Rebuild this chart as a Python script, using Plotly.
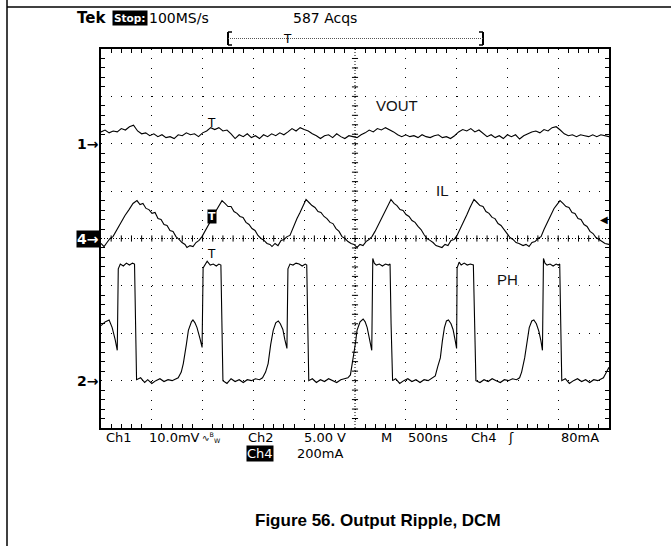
import plotly.graph_objects as go

# ---- scope record: 500 ns/div, 10 div -> 0..5000 ns ----

# Ch1 VOUT ripple (mV, AC), sampled every 40 ns
t_vout = list(range(0, 5001, 40))
vout_mv = [
    2.5, 2.9, 2.3, 2.7, 2.5, 3.2, 2.9, 3.6, 3.9, 2.7,
    2.1, 2.3, 1.7, 2.1, 1.5, 1.9, 1.3, 1.5, 1.1, 1.9,
    1.7, 2.3, 1.9, 2.1, 1.5, 2.3, 2.7, 3.4, 3.0, 3.4,
    2.7, 2.9, 2.1, 1.1, 1.9, 1.5, 2.1, 1.3, 1.7, 1.1,
    1.9, 1.5, 2.1, 1.7, 2.3, 1.9, 2.5, 3.2, 2.7, 3.4,
    3.0, 2.7, 2.1, 1.7, 1.1, 1.7, 1.9, 1.3, 2.1, 1.5,
    1.1, 1.7, 1.5, 1.3, 1.9, 2.3, 2.9, 2.5, 3.2, 2.9,
    3.4, 3.0, 2.5, 1.9, 1.5, 1.9, 1.5, 1.7, 1.3, 1.9,
    1.5, 1.3, 1.7, 1.9, 1.3, 1.5, 1.1, 1.7, 2.5, 3.0,
    2.7, 3.2, 2.5, 2.9, 2.1, 1.5, 1.9, 1.3, 1.7, 1.1,
    1.9, 1.5, 1.9, 1.0, 1.7, 2.1, 2.5, 2.7, 2.3, 3.0,
    2.7, 3.4, 3.6, 2.9, 2.1, 1.7, 1.9, 1.5, 1.9, 1.7,
    1.5, 1.9, 1.5, 1.9, 1.7, 1.5,
]

# Ch4 inductor current IL (mA)
t_il = [
    0, 30, 59, 89, 118, 157, 197, 236, 276, 315, 354,
    384, 413, 443, 472, 502, 532, 561, 591, 620, 650, 679, 709, 738, 768, 797, 827, 846,
    876, 906, 935, 965, 994, 1024, 1053, 1093, 1122, 1152, 1191,
    1220, 1250, 1280, 1309, 1339, 1368, 1398, 1427, 1457, 1486, 1516, 1545, 1575, 1604,
    1634, 1663, 1683, 1713, 1742, 1772, 1801, 1831, 1860, 1890, 1929, 1959, 1988, 2018,
    2047, 2077, 2106, 2136, 2165, 2195, 2224, 2254, 2283, 2313, 2343, 2372, 2402, 2431,
    2461, 2490, 2520, 2549, 2579, 2608, 2638, 2667, 2697, 2726, 2766, 2795, 2825, 2854,
    2884, 2913, 2943, 2973, 3002, 3032, 3061, 3091, 3120, 3150, 3179, 3209, 3238, 3268,
    3297, 3327, 3356, 3386, 3415, 3445, 3475, 3504, 3534, 3573, 3602, 3632, 3671,
    3701, 3730, 3760, 3789, 3819, 3849, 3878, 3908, 3937, 3967, 3996, 4026, 4055, 4085,
    4114, 4154, 4183, 4213, 4242, 4272, 4301, 4331, 4360, 4400, 4429, 4459, 4488, 4518,
    4547, 4577, 4606, 4636, 4665, 4695, 4724, 4754, 4784, 4813, 4843, 4872, 4902, 4931,
    4961, 5000,
]
il_ma = [
    -21, -34, -17, 0, 8, 38, 68, 97, 122, 148, 160,
    143, 148, 127, 122, 106, 110, 84, 80, 59, 55, 34, 30, 8, -4, -17, -25, -38,
    -30, -34, -17, -8, 8, 30, 51, 84, 110, 131, 160,
    148, 135, 135, 114, 106, 93, 89, 68, 59, 42, 34, 13, 0, -8,
    -21, -25, -34, -21, -30, -8, -4, 8, 13, 46, 84, 110, 139, 165,
    152, 139, 131, 114, 110, 93, 84, 68, 63, 42, 30, 8, 0, -13,
    -21, -25, -38, -25, -30, -13, -4, 8, 30, 55, 89, 114, 139, 165,
    148, 139, 122, 118, 101, 93, 76, 68, 51, 38, 17, 0, -8, -17,
    -30, -34, -38, -25, -30, -8, -4, 13, 38, 76, 101, 131, 165,
    152, 139, 135, 114, 106, 89, 84, 63, 55, 38, 25, 4, -4, -17,
    -21, -30, -25, -34, -17, -13, 0, 8, 38, 76, 106, 127, 143, 160,
    148, 135, 131, 110, 106, 84, 80, 59, 51, 30, 21, 4, -4, -13,
    -21, -25,
]

# Ch2 switch node PH (V)
t_ph = [
    0, 40, 80, 110, 140, 160, 170, 190, 220, 250, 280, 310, 330, 340, 350,
    390, 430, 460, 500, 540, 580, 620, 660, 700, 740, 760,
    790, 810, 840, 860, 890, 905, 925, 945, 975, 995, 1005, 1025, 1045, 1075,
    1105, 1135, 1160, 1180, 1190, 1200,
    1240, 1280, 1320, 1360, 1400, 1440, 1480, 1520, 1560, 1590,
    1620, 1645, 1670, 1695, 1720, 1745, 1765, 1790, 1810, 1830, 1840, 1860, 1890, 1920,
    1950, 1980, 2010, 2025, 2035, 2045,
    2080, 2120, 2160, 2200, 2240, 2280, 2320, 2360, 2400, 2430,
    2455, 2480, 2505, 2520, 2550, 2580, 2600, 2620, 2645, 2665, 2675, 2690, 2710, 2740,
    2770, 2800, 2830, 2845, 2855, 2870,
    2900, 2940, 2980, 3020, 3060, 3100, 3140, 3180, 3220, 3260,
    3290, 3315, 3340, 3360, 3380, 3400, 3420, 3445, 3465, 3485, 3500, 3505, 3525, 3545,
    3575, 3605, 3635, 3665, 3678, 3690,
    3730, 3770, 3810, 3850, 3890, 3930, 3970, 4010, 4050, 4090, 4120,
    4140, 4170, 4195, 4215, 4240, 4260, 4285, 4310, 4330, 4345, 4355, 4370, 4390, 4420,
    4450, 4480, 4500, 4515, 4525, 4535,
    4570, 4610, 4650, 4690, 4730, 4770, 4810, 4850, 4890, 4920,
    4945, 4965, 4990, 5000,
]
ph_v = [
    5.8, 6.2, 6.4, 5.6, 4.3, 3.2, 11.8, 12.3, 12.1, 12.4, 12.2, 12.4, 12.3, 6.0, 0.1,
    0.3, -0.2, 0.1, -0.3, 0.0, 0.2, -0.1, 0.1, 0.0, 0.2, 0.3,
    0.9, 1.8, 3.8, 5.3, 6.2, 6.4, 6.1, 5.6, 4.4, 3.5, 11.9, 12.3, 12.6, 12.2,
    12.3, 12.1, 12.3, 12.2, 6.0, 0.0,
    -0.3, 0.2, -0.1, 0.1, -0.2, 0.1, 0.0, 0.2, 0.1, 0.3,
    0.9, 1.8, 3.8, 5.3, 6.1, 6.3, 6.0, 5.4, 4.3, 3.4, 11.8, 12.3, 12.2, 12.4,
    12.3, 12.1, 12.3, 12.2, 6.0, 0.0,
    0.2, -0.2, 0.1, -0.1, 0.2, 0.0, -0.2, 0.1, 0.2, 0.3,
    0.6, 2.1, 4.0, 5.3, 6.2, 6.5, 6.2, 5.6, 4.4, 3.2, 12.9, 12.4, 12.2, 12.3,
    12.1, 12.3, 12.2, 12.3, 6.0, 0.0,
    0.2, -0.3, 0.0, 0.2, -0.1, 0.1, -0.2, 0.1, 0.0, 0.3,
    0.5, 1.5, 2.4, 4.2, 5.6, 6.3, 6.4, 6.0, 5.4, 4.3, 3.4, 11.9, 12.5, 12.2,
    12.4, 12.2, 12.3, 12.2, 6.0, 0.0,
    -0.2, 0.1, -0.1, 0.2, 0.0, -0.2, 0.1, 0.0, 0.2, 0.1, 0.3,
    0.9, 2.4, 4.5, 5.6, 6.3, 6.4, 6.0, 5.2, 4.2, 3.2, 12.9, 12.4, 12.2, 12.3,
    12.1, 12.3, 12.2, 12.3, 6.0, 0.0,
    0.2, -0.3, 0.0, 0.2, -0.1, 0.1, -0.2, 0.1, 0.0, 0.2,
    0.3, 0.7, 1.1, 1.4,
]

# channel scale (units/div) and ground marker position (div from centre)
CH1_SCALE, CH1_POS = 10.0, 2.0
CH2_SCALE, CH2_POS = 5.0, -3.0
CH4_SCALE, CH4_POS = 200.0, 0.0
TRIG_T = 1090      # ns, trigger point
TRIG_LEVEL = 80.0  # mA on Ch4

# page geometry (pixels)
W, H = 671, 546
L, R, T, B = 101, 609, 49, 428


def px(x):
    return (x - L) / (R - L)


def py(y):
    return (B - y) / (B - T)


fig = go.Figure()

for tt, vals, scale, pos in [
    (t_vout, vout_mv, CH1_SCALE, CH1_POS),
    (t_il, il_ma, CH4_SCALE, CH4_POS),
    (t_ph, ph_v, CH2_SCALE, CH2_POS),
]:
    fig.add_trace(go.Scatter(
        x=tt, y=[pos + v / scale for v in vals],
        mode='lines', line=dict(color='black', width=1.1),
        hoverinfo='skip', showlegend=False
    ))

shapes = []
# centre crosshair with minor ticks
shapes.append(dict(type='line', xref='x', yref='y', x0=2500, x1=2500, y0=-4, y1=4,
                   line=dict(color='black', width=1, dash='1px,2px')))
shapes.append(dict(type='line', xref='x', yref='y', x0=0, x1=5000, y0=0, y1=0,
                   line=dict(color='black', width=1, dash='1px,2px')))
for k in range(1, 40):
    yk = -4 + k * 0.2
    shapes.append(dict(type='line', xref='x', yref='y', x0=2470, x1=2530, y0=yk, y1=yk,
                       line=dict(color='black', width=1)))
for k in range(1, 50):
    xk = k * 100
    shapes.append(dict(type='line', xref='x', yref='y', x0=xk, x1=xk, y0=-0.065, y1=0.065,
                       line=dict(color='black', width=1)))

# page frame
shapes.append(dict(type='line', xref='paper', yref='paper', x0=px(7), x1=px(671),
                   y0=py(7), y1=py(7), line=dict(color='black', width=1.5)))
shapes.append(dict(type='line', xref='paper', yref='paper', x0=px(7), x1=px(7),
                   y0=py(0), y1=py(546), line=dict(color='black', width=1.5)))

# record-length bracket
bl, br, bt, bb, bm = 228, 483, 32, 45, 38.5
shapes += [
    dict(type='line', xref='paper', yref='paper', x0=px(bl), x1=px(bl), y0=py(bt), y1=py(bb),
         line=dict(color='black', width=2)),
    dict(type='line', xref='paper', yref='paper', x0=px(bl), x1=px(bl + 4), y0=py(bt), y1=py(bt),
         line=dict(color='black', width=1.5)),
    dict(type='line', xref='paper', yref='paper', x0=px(bl), x1=px(bl + 4), y0=py(bb), y1=py(bb),
         line=dict(color='black', width=1.5)),
    dict(type='line', xref='paper', yref='paper', x0=px(br), x1=px(br), y0=py(bt), y1=py(bb),
         line=dict(color='black', width=2)),
    dict(type='line', xref='paper', yref='paper', x0=px(br - 4), x1=px(br), y0=py(bt), y1=py(bt),
         line=dict(color='black', width=1.5)),
    dict(type='line', xref='paper', yref='paper', x0=px(br - 4), x1=px(br), y0=py(bb), y1=py(bb),
         line=dict(color='black', width=1.5)),
    dict(type='line', xref='paper', yref='paper', x0=px(bl), x1=px(br), y0=py(bm), y1=py(bm),
         line=dict(color='#555', width=1, dash='1px,1px')),
]

SCOPE_FONT = 'DejaVu Sans'
annotations = []


def txt(text, x, y, size=13, xanchor='left', color='black', bg=None, family=SCOPE_FONT,
        xref='paper', yref='paper', pad=0):
    a = dict(text=text, x=x, y=y, xref=xref, yref=yref, xanchor=xanchor, yanchor='middle',
             showarrow=False, font=dict(family=family, size=size, color=color), borderpad=pad)
    if bg:
        a['bgcolor'] = bg
    annotations.append(a)


# header
txt('<b>Tek</b>', px(76), py(18), size=15)
txt('<b>Stop:</b>', px(112), py(18), size=10.5, color='white', bg='black', pad=1)
txt('100MS/s', px(148), py(18), size=14)
txt('587 Acqs', px(292), py(18), size=14)
txt('T', px(282), py(bm), size=12)

# channel ground markers
txt('<b>1→</b>', px(100), CH1_POS, size=14, xanchor='right', yref='y')
txt('<b>4→</b>', px(100), CH4_POS, size=14, xanchor='right', yref='y', color='white', bg='black')
txt('<b>2→</b>', px(100), CH2_POS, size=14, xanchor='right', yref='y')

# trigger markers
txt('T', TRIG_T, CH1_POS + 0.44, size=12, xanchor='center', xref='x', yref='y')
txt('<b>T</b>', TRIG_T, TRIG_LEVEL / CH4_SCALE + 0.07, size=11, xanchor='center',
    xref='x', yref='y', color='white', bg='black')
txt('T', TRIG_T, CH2_POS + 12.9 / CH2_SCALE + 0.1, size=12, xanchor='center',
    xref='x', yref='y')
txt('◀', 5000, TRIG_LEVEL / CH4_SCALE, size=10, xanchor='right', xref='x', yref='y')

# trace labels
for label, lx, ly in [('VOUT', 397, 105), ('IL', 442, 191), ('PH', 507, 279)]:
    txt(label, px(lx), py(ly), size=15, xanchor='center', color='#111', bg='white',
        family='Liberation Sans')

# readout
for s, x in [('Ch1', 105), ('10.0mV', 148), ('Ch2', 247), ('5.00 V', 303), ('M', 380),
             ('500ns', 407), ('Ch4', 470), ('ʃ', 507), ('80mA', 560)]:
    txt(s, px(x), py(437), size=13)
txt('∿<sup>B</sup><sub>W</sub>', px(201), py(437), size=9)
txt('Ch4', px(246), py(453), size=13, color='white', bg='black')
txt('200mA', px(296), py(453), size=13)

# caption
txt('<b>Figure 56. Output Ripple, DCM</b>', px(378), py(520), size=17, xanchor='center',
    family='Liberation Sans')

fig.update_layout(
    width=W, height=H, autosize=False,
    margin=dict(l=L, r=W - R, t=T, b=H - B, pad=0),
    paper_bgcolor='white', plot_bgcolor='white',
    showlegend=False, hovermode=False,
    shapes=shapes, annotations=annotations,
    xaxis=dict(
        range=[0, 5000], tick0=0, dtick=500, showticklabels=False, ticks='',
        showgrid=True, gridcolor='black', gridwidth=1, griddash='1px,8.48px',
        zeroline=False, showline=True, linecolor='black', linewidth=1.5, mirror='allticks',
        minor=dict(ticks='inside', ticklen=4, dtick=100, tickcolor='black', showgrid=False),
        fixedrange=True,
    ),
    yaxis=dict(
        range=[-4, 4], tick0=0, dtick=1, showticklabels=False, ticks='',
        showgrid=True, gridcolor='black', gridwidth=1, griddash='1px,9.16px',
        zeroline=False, showline=True, linecolor='black', linewidth=1.5, mirror='allticks',
        minor=dict(ticks='inside', ticklen=4, dtick=0.2, tickcolor='black', showgrid=False),
        fixedrange=True,
    ),
)

# page body margin would shift the figure by 8px
fig.write_html("out.html", config={'displayModeBar': False},
               post_script="document.body.style.margin='0px';")
